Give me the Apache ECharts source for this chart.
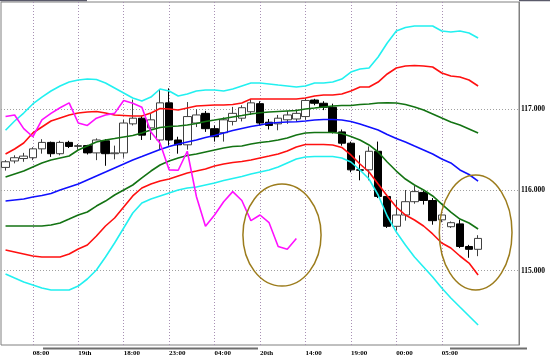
<!DOCTYPE html>
<html><head><meta charset="utf-8">
<script src="https://cdn.jsdelivr.net/npm/echarts@6/dist/echarts.min.js"></script>
<style>html,body{margin:0;padding:0;background:#fff}#c{width:550px;height:360px}</style>
</head><body><div id="c"></div>
<script>
// ---- data ----
const tickLabels = ['08:00','19th','18:00','23:00','04:00','20th','14:00','19:00','00:00','05:00'];
const firstTickIndex = 3;
const tickStep = 5;
const slotCount = 57;

// [open, close, low, high]
const ohlc = [
  [116.28,116.35,116.24,116.37],[116.36,116.40,116.33,116.43],[116.39,116.42,116.35,116.46],
  [116.40,116.51,116.37,116.53],[116.51,116.59,116.45,116.63],[116.59,116.45,116.41,116.60],
  [116.45,116.59,116.43,116.61],[116.59,116.54,116.52,116.61],[116.54,116.55,116.50,116.57],
  [116.55,116.46,116.44,116.56],[116.46,116.62,116.37,116.64],[116.61,116.45,116.30,116.63],
  [116.45,116.46,116.38,116.55],[116.46,116.83,116.40,116.87],[116.82,116.89,116.80,117.12],
  [116.89,116.68,116.62,116.92],[116.77,116.87,116.62,116.95],[116.62,117.08,116.50,117.25],
  [117.08,116.62,116.55,117.26],[116.62,116.56,116.45,116.66],[116.56,116.91,116.50,117.09],
  [116.83,116.93,116.78,117.00],[116.95,116.76,116.72,116.98],[116.76,116.66,116.60,116.80],
  [116.71,116.87,116.60,116.90],[116.85,116.95,116.80,117.03],[116.89,117.02,116.85,117.05],
  [116.97,117.08,116.93,117.12],[117.07,116.83,116.80,117.10],[116.84,116.80,116.75,116.88],
  [116.82,116.89,116.74,116.93],[116.87,116.93,116.82,116.98],[116.88,116.95,116.85,117.00],
  [116.91,117.11,116.87,117.14],[117.115,117.075,117.05,117.13],[117.075,117.025,116.99,117.10],
  [117.025,116.72,116.70,117.07],[116.72,116.58,116.55,116.75],[116.58,116.25,116.22,116.60],
  [116.25,116.245,116.12,116.43],[116.25,116.48,116.12,116.54],[116.48,115.92,115.90,116.60],
  [115.92,115.55,115.53,115.95],[115.55,115.69,115.50,115.88],[115.69,115.855,115.62,116.00],
  [115.855,115.98,115.83,116.05],[115.97,115.87,115.82,115.99],[115.87,115.62,115.57,115.90],
  [115.63,115.69,115.60,115.72],[115.545,115.595,115.53,115.61],[115.58,115.30,115.28,115.63],
  [115.30,115.265,115.16,115.32],[115.265,115.40,115.18,115.44]
];

const cyanUpper = [116.74,116.855,116.954,117.066,117.152,117.227,117.289,117.338,117.363,117.375,117.369,117.326,117.264,117.202,117.140,117.103,117.152,117.252,117.227,117.165,117.190,117.227,117.239,117.239,117.227,117.252,117.289,117.326,117.326,117.314,117.301,117.289,117.277,117.289,117.326,117.326,117.338,117.375,117.462,117.499,117.512,117.648,117.822,117.970,118.014,118.032,118.032,118.032,117.970,117.958,117.970,117.946,117.884];
const redUpper = [116.446,116.508,116.582,116.706,116.781,116.855,116.892,116.929,116.954,116.966,116.973,116.954,116.929,116.923,116.917,116.917,116.954,117.010,117.004,116.991,117.016,117.041,117.047,117.053,117.053,117.059,117.078,117.128,117.128,117.128,117.128,117.128,117.128,117.140,117.165,117.177,117.177,117.190,117.227,117.277,117.277,117.338,117.438,117.512,117.537,117.543,117.537,117.524,117.450,117.413,117.400,117.363,117.289];
const greenUpper = [116.161,116.198,116.235,116.285,116.334,116.372,116.397,116.421,116.496,116.545,116.595,116.620,116.638,116.657,116.675,116.706,116.743,116.774,116.787,116.793,116.805,116.824,116.849,116.867,116.886,116.905,116.923,116.942,116.958,116.967,116.973,116.979,116.985,117.004,117.016,117.029,117.041,117.047,117.047,117.059,117.066,117.078,117.082,117.078,117.059,117.029,116.991,116.942,116.892,116.843,116.805,116.756,116.706];
const blueMiddle = [115.864,115.876,115.888,115.913,115.932,115.957,116.000,116.037,116.074,116.124,116.174,116.223,116.273,116.322,116.372,116.415,116.459,116.502,116.539,116.570,116.595,116.620,116.651,116.675,116.706,116.737,116.762,116.787,116.805,116.827,116.836,116.843,116.846,116.855,116.867,116.874,116.874,116.867,116.849,116.818,116.781,116.743,116.688,116.638,116.595,116.545,116.496,116.446,116.384,116.335,116.248,116.192,116.111];
const greenLower = [115.554,115.554,115.554,115.554,115.554,115.566,115.591,115.640,115.690,115.727,115.801,115.863,115.938,116.000,116.062,116.149,116.235,116.310,116.359,116.397,116.428,116.446,116.471,116.496,116.520,116.539,116.545,116.570,116.589,116.601,116.620,116.644,116.681,116.706,116.712,116.712,116.712,116.700,116.663,116.620,116.558,116.471,116.347,116.235,116.136,116.062,116.000,115.926,115.826,115.727,115.640,115.591,115.517];
const redLower = [115.256,115.232,115.207,115.182,115.170,115.170,115.170,115.207,115.269,115.318,115.430,115.554,115.653,115.789,115.926,116.025,116.074,116.112,116.136,116.174,116.211,116.235,116.260,116.297,116.322,116.341,116.353,116.372,116.397,116.421,116.446,116.483,116.533,116.564,116.564,116.564,116.558,116.527,116.434,116.322,116.223,116.074,115.926,115.789,115.690,115.628,115.554,115.455,115.343,115.281,115.182,115.095,114.947];
const cyanLower = [114.959,114.909,114.860,114.823,114.786,114.761,114.761,114.761,114.810,114.897,115.009,115.170,115.343,115.529,115.715,115.839,115.888,115.926,115.963,116.000,116.025,116.037,116.062,116.087,116.118,116.143,116.167,116.198,116.223,116.248,116.285,116.335,116.384,116.409,116.415,116.415,116.415,116.397,116.347,116.248,116.136,115.938,115.678,115.479,115.318,115.170,115.046,114.922,114.786,114.662,114.550,114.439,114.327];
const chikou = [116.91,116.93,116.76,116.66,116.87,116.95,117.02,117.08,116.83,116.80,116.89,116.93,116.95,117.11,117.075,117.025,116.72,116.58,116.25,116.245,116.48,115.92,115.55,115.69,115.855,115.98,115.87,115.62,115.69,115.595,115.30,115.265,115.40];

// ellipse annotations: [center slot, center price, x radius (slots), y radius (price)]
const ellipses = [[30.42,115.442,4.3,0.632],[51.73,115.473,4.0,0.712]];
const currentPrice = 115.40;
const priceTicks = [115,116,117];

// ---- chart ----
const categories = [];
for (let i = 0; i < slotCount; i++) {
  const k = (i - firstTickIndex) / tickStep;
  categories.push(Number.isInteger(k) && k >= 0 && k < tickLabels.length ? tickLabels[k] : '');
}
const showTick = (i, v) => v !== '';
const lineSeries = (data, color) => ({
  type: 'line', data, showSymbol: false, symbol: 'none', z: 4,
  lineStyle: { color, width: 1.6 }, animation: false, silent: true
});
const font = 'Liberation Serif';

const chart = echarts.init(document.getElementById('c'), null, { renderer: 'canvas' });
chart.setOption({
  animation: false,
  backgroundColor: '#ffffff',
  grid: { left: 1, right: 31, top: 2, bottom: 15, show: true, borderColor: '#808080', borderWidth: 1, backgroundColor: '#ffffff' },
  graphic: [
    { type: 'line', shape: { x1: 43, y1: 348.5, x2: 258, y2: 348.5 }, style: { stroke: '#6e6e6e', lineWidth: 2 }, silent: true },
    { type: 'line', shape: { x1: 450, y1: 348.5, x2: 527, y2: 348.5 }, style: { stroke: '#6e6e6e', lineWidth: 2 }, silent: true },
    { type: 'line', shape: { x1: 0, y1: 0.5, x2: 87, y2: 0.5 }, style: { stroke: '#5a5a6a', lineWidth: 1.5 }, silent: true },
    { type: 'line', shape: { x1: 519, y1: 0.5, x2: 550, y2: 0.5 }, style: { stroke: '#5a5a6a', lineWidth: 1.5 }, silent: true }
  ],
  xAxis: {
    type: 'category', data: categories, boundaryGap: true,
    axisLine: { show: false },
    axisTick: { show: true, alignWithLabel: true, inside: true, length: 343, interval: showTick,
                lineStyle: { color: '#a890b4', type: [1, 2], width: 1 } },
    axisLabel: { interval: showTick, align: 'left', margin: 5, fontSize: 7, fontWeight: 'bold',
                 fontFamily: font, color: '#000' },
    splitLine: { show: false }
  },
  yAxis: {
    type: 'value', position: 'right', min: 114.079, max: 118.33, scale: true,
    axisLine: { show: true, lineStyle: { color: '#808080' } },
    axisTick: { show: false, customValues: priceTicks },
    axisLabel: { customValues: priceTicks, formatter: v => v.toFixed(3), margin: 2, fontSize: 7.5,
                 fontWeight: 'bold', fontFamily: font, color: '#000' },
    splitLine: { show: true, lineStyle: { color: '#a0a0a0', type: [1, 2] } }
  },
  series: [
    {
      type: 'candlestick', data: ohlc, barWidth: 8, z: 2,
      itemStyle: { color: '#ffffff', color0: '#000000', borderColor: '#404040', borderColor0: '#000000', borderWidth: 1 },
      markLine: {
        silent: true, symbol: ['none', 'none'], animation: false,
        lineStyle: { opacity: 0 },
        label: { show: true, position: 'end', distance: 2, formatter: currentPrice.toFixed(3),
                 backgroundColor: '#1b8a3c', color: '#ff50ff', fontSize: 7.5, fontWeight: 'bold',
                 fontFamily: font, padding: [1, 1, 0, 1] },
        data: [{ yAxis: currentPrice }]
      }
    },
    lineSeries(cyanUpper, '#22f0f0'),
    lineSeries(redUpper, '#ff1010'),
    lineSeries(greenUpper, '#137313'),
    lineSeries(blueMiddle, '#1010ff'),
    lineSeries(greenLower, '#137313'),
    lineSeries(redLower, '#ff1010'),
    lineSeries(cyanLower, '#22f0f0'),
    lineSeries(chikou, '#ff10ff'),
    {
      type: 'custom', z: 5, silent: true,
      data: ellipses.map(e => [Math.floor(e[0]), e[1]]),
      renderItem: (params, api) => {
        const e = ellipses[params.dataIndex];
        const base = Math.floor(e[0]);
        const p = api.coord([base, e[1]]);
        const band = api.size([1, 0])[0];
        return {
          type: 'ellipse',
          shape: { cx: p[0] + (e[0] - base) * band, cy: p[1], rx: e[2] * band, ry: api.size([0, e[3]])[1] },
          style: { fill: 'none', stroke: '#9c7c1c', lineWidth: 1.5 }
        };
      }
    }
  ]
});
</script></body></html>
